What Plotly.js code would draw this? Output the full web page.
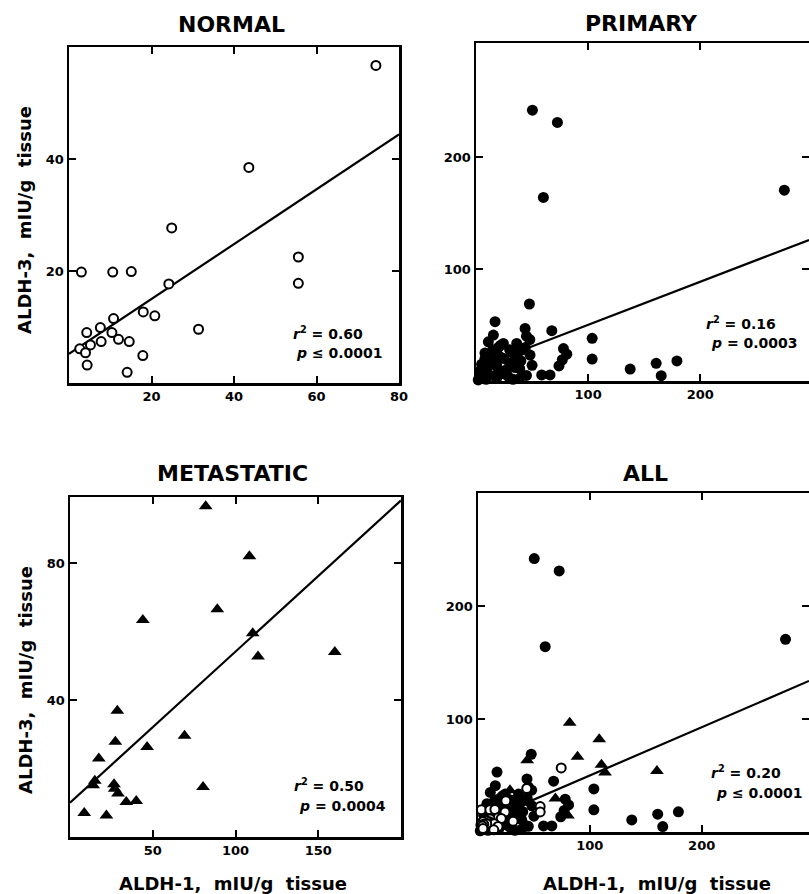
<!DOCTYPE html>
<html>
<head>
<meta charset="utf-8">
<script src="https://cdn.plot.ly/plotly-3.0.1.min.js"></script>
<style>html,body{margin:0;padding:0;background:#fff;}#chart{width:809px;height:894px;}</style>
</head>
<body>
<div id="chart"></div>
<script>
// ---- Data (ALDH-1 vs ALDH-3, mIU/g tissue) ----
const normalX = [74.4, 43.6, 24.9, 55.6, 55.6, 3.0, 10.6, 15.1, 24.2, 18.0, 20.8, 31.4, 10.8, 7.6, 4.3, 10.4, 12.0, 14.6, 7.8, 5.2, 2.6, 4.0, 17.9, 4.4, 14.1];
const normalY = [56.7, 38.5, 27.7, 22.5, 17.8, 19.8, 19.8, 19.9, 17.7, 12.7, 12.0, 9.6, 11.5, 9.9, 9.0, 9.0, 7.8, 7.4, 7.4, 6.8, 6.1, 5.4, 4.9, 3.2, 1.9];

const primaryX = [50.3, 72.6, 60.1, 275, 47.6, 17.0, 43.8, 67.6, 103.6, 15.5, 45, 11, 24.4, 36.3, 48, 78, 81, 77, 74, 48.2, 12.5, 21, 33, 30, 18.5, 10, 6.5, 3.6, 18.5, 30, 39, 58.6, 66, 39, 24.4, 12.5, 36, 103.6, 137.5, 160.7, 179.2, 165.2, 2, 5, 8, 27, 42,
                  5, 8, 15, 20, 25, 30, 35, 40, 44, 20, 12, 28, 33, 45, 50, 3, 16, 9, 22, 38];
const primaryY = [242, 231, 164, 170.5, 68.8, 53, 47, 45, 38.1, 41, 40, 35, 33.6, 33.6, 37, 29, 24, 19, 13.5, 23.2, 25, 22, 25, 16, 13.4, 10.4, 3.9, 2.4, 2.4, 2.4, 2.4, 5.4, 5.4, 11, 6.5, 17.5, 19, 19.6, 10.7, 15.8, 17.9, 4.8, 1, 8, 20, 10, 28,
                  15, 25, 28, 30, 20, 28, 12, 18, 30, 8, 5, 5, 1.5, 5, 14, 8, 20, 1.5, 32, 26];

const metaX = [82, 108.4, 89, 44, 110.4, 113.6, 160, 28.6, 27.4, 46.6, 69.2, 17.4, 80.4, 15, 14, 26.6, 27, 29, 34, 40, 8.6, 22];
const metaY = [96.6, 82, 66.5, 63.4, 59.5, 52.7, 54, 36.9, 27.8, 26.3, 29.6, 22.9, 14.6, 16.4, 15.1, 15.4, 14.1, 12.7, 10.2, 10.5, 7.0, 6.3];

// regression lines (end points in data units)
const normalFitX = [0, 80],  normalFitY = [5.2, 44.4];
const primaryFitX = [0, 297], primaryFitY = [11.7, 126.0];
const metaFitX = [0, 200],    metaFitY = [10.0, 98.3];
const allFitX = [0, 296],     allFitY = [7.3, 133.7];

const panelTitles = ["NORMAL", "PRIMARY", "METASTATIC", "ALL"];
const statR = ["= 0.60", "= 0.16", "= 0.50", "= 0.20"];
const statP = ["≤ 0.0001", "= 0.0003", "= 0.0004", "≤ 0.0001"];
const yTitle = "ALDH-3,  mIU/g  tissue";
const xTitle = "ALDH-1,  mIU/g  tissue";

// ---- Styles ----
const FONT = "DejaVu Sans, Liberation Sans, Arial, sans-serif";
const openCircle = {symbol: "circle", size: 9, color: "#fff", line: {color: "#000", width: 2}};
const filledCircle = {symbol: "circle", size: 11, color: "#000", line: {width: 0}};
const triangle = {symbol: "triangle-up", size: 12, color: "#000", line: {width: 0}};
const fitLine = {color: "#000", width: 2.2};

function pts(x, y, marker, ax) {
  return {x, y, type: "scatter", mode: "markers", marker, xaxis: "x" + ax, yaxis: "y" + ax, hoverinfo: "x+y", cliponaxis: false};
}
function fit(x, y, ax) {
  return {x, y, type: "scatter", mode: "lines", line: fitLine, xaxis: "x" + ax, yaxis: "y" + ax, hoverinfo: "skip"};
}

const traces = [
  fit(normalFitX, normalFitY, ""),
  pts(normalX, normalY, openCircle, ""),
  fit(primaryFitX, primaryFitY, "2"),
  pts(primaryX, primaryY, filledCircle, "2"),
  fit(metaFitX, metaFitY, "3"),
  pts(metaX, metaY, triangle, "3"),
  fit(allFitX, allFitY, "4"),
  pts(primaryX, primaryY, filledCircle, "4"),
  pts(metaX, metaY, triangle, "4"),
  pts(normalX, normalY, openCircle, "4")
];

function axis(domain, range, tickvals, anchor) {
  return {
    domain, range, tickvals, ticktext: tickvals.map(String), anchor,
    showgrid: false, zeroline: false, showline: true, linecolor: "#000", linewidth: 2.5,
    mirror: "ticks", ticks: "inside", ticklen: 7, tickwidth: 2, tickcolor: "#000",
    tickfont: {family: FONT, size: 13, color: "#000", weight: 700},
    fixedrange: true
  };
}
const W = 809, H = 894;
const px = v => v / W, py = v => 1 - v / H;

const layout = {
  width: W, height: H, margin: {l: 0, r: 0, t: 0, b: 0},
  paper_bgcolor: "#fff", plot_bgcolor: "#fff", showlegend: false,
  xaxis:  axis([px(69), px(399)], [0, 80], [20, 40, 60, 80], "y"),
  yaxis:  axis([py(383), py(47)], [0, 60], [20, 40], "x"),
  xaxis2: axis([px(476), 1], [0, 297], [100, 200], "y2"),
  yaxis2: axis([py(381), py(43)], [0, 302], [100, 200], "x2"),
  xaxis3: axis([px(70), px(401)], [0, 200], [50, 100, 150], "y3"),
  yaxis3: axis([py(837), py(497)], [0, 99.3], [40, 80], "x3"),
  xaxis4: axis([px(478), 1], [0, 296], [100, 200], "y4"),
  yaxis4: axis([py(832), py(493)], [0, 300], [100, 200], "x4"),
  annotations: []
};

const titlePos = [[231, 25], [641, 24], [233, 473], [645, 473]];
titlePos.forEach((p, i) => layout.annotations.push({
  text: panelTitles[i], xref: "paper", yref: "paper", x: px(p[0]), y: py(p[1]),
  xanchor: "center", yanchor: "middle", showarrow: false,
  font: {family: FONT, size: 22, color: "#000", weight: 700}
}));

const statPos = [[291, 333, 294, 353], [704, 323, 709, 343], [292, 785, 297, 806], [709, 772, 714, 793]];
statPos.forEach((p, i) => {
  layout.annotations.push({
    text: "<i>r</i><sup>2</sup> " + statR[i], xref: "paper", yref: "paper", x: px(p[0]), y: py(p[1]),
    xanchor: "left", yanchor: "middle", showarrow: false,
    font: {family: FONT, size: 14, color: "#000", weight: 700}
  });
  layout.annotations.push({
    text: "<i>p</i> " + statP[i], xref: "paper", yref: "paper", x: px(p[2]), y: py(p[3]),
    xanchor: "left", yanchor: "middle", showarrow: false,
    font: {family: FONT, size: 14, color: "#000", weight: 700}
  });
});

[[25, 220], [25, 680]].forEach(p => layout.annotations.push({
  text: yTitle, xref: "paper", yref: "paper", x: px(p[0]), y: py(p[1]), textangle: -90,
  xanchor: "center", yanchor: "middle", showarrow: false,
  font: {family: FONT, size: 18, color: "#000", weight: 700}
}));
[[233, 883], [657, 883]].forEach(p => layout.annotations.push({
  text: xTitle, xref: "paper", yref: "paper", x: px(p[0]), y: py(p[1]),
  xanchor: "center", yanchor: "middle", showarrow: false,
  font: {family: FONT, size: 18, color: "#000", weight: 700}
}));

Plotly.newPlot("chart", traces, layout, {displayModeBar: false, staticPlot: true});
</script>
</body>
</html>
